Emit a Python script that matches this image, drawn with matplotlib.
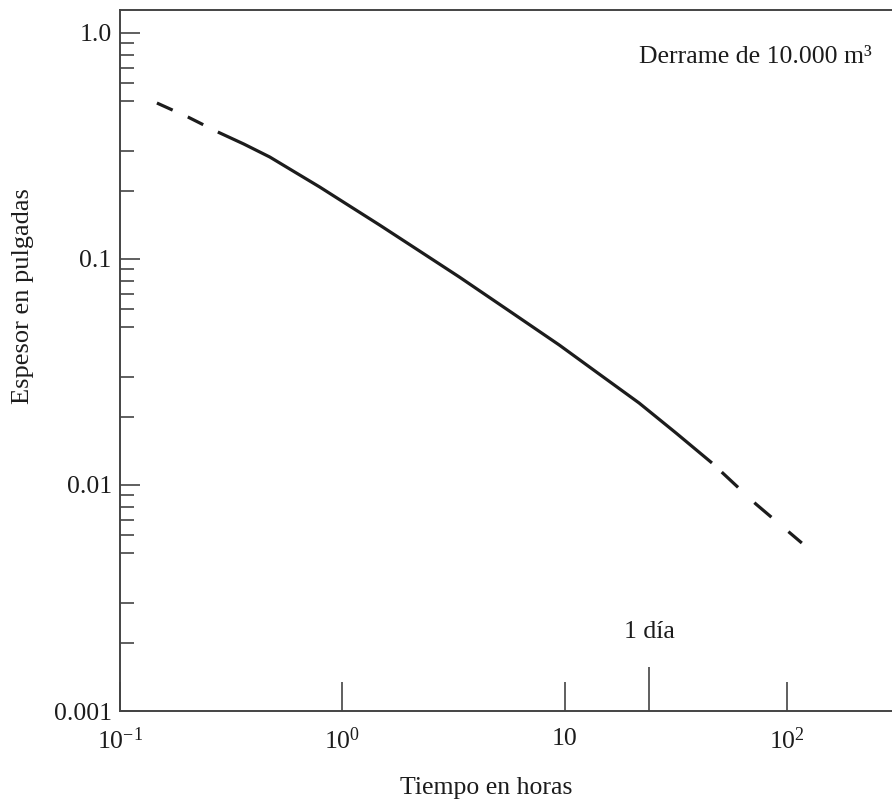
import matplotlib
matplotlib.use("Agg")
import matplotlib.pyplot as plt
from matplotlib.ticker import FixedLocator, NullFormatter
from matplotlib.transforms import blended_transform_factory

plt.rcParams["font.family"] = ["Liberation Serif", "DejaVu Serif"]
plt.rcParams["mathtext.fontset"] = "custom"
plt.rcParams["mathtext.rm"] = "Liberation Serif"

# Oil-slick thickness (inches) versus time (hours), 10,000 m3 spill
t_early = [0.1466, 0.2019, 0.2755]
h_early = [0.4900, 0.4250, 0.3646]

t_main = [0.2755, 0.3604, 0.4717, 0.6105, 0.7909, 1.0784, 1.471, 2.224,
          3.363, 5.639, 9.459, 14.30, 21.63, 31.70, 46.00]
h_main = [0.3646, 0.3227, 0.2827, 0.2427, 0.2083, 0.1716, 0.1414, 0.1085,
          0.0832, 0.0589, 0.04164, 0.03098, 0.02306, 0.01699, 0.01252]

t_late = [46.00, 72.5, 116.7]
h_late = [0.01252, 0.00824, 0.005538]

x_ticks = [0.1, 1, 10, 100]
x_labels = [r"$\mathregular{10^{-1}}$", r"$\mathregular{10^{0}}$", "10",
            r"$\mathregular{10^{2}}$"]
y_ticks = [1.0, 0.1, 0.01, 0.001]
y_labels = ["1.0", "0.1", "0.01", "0.001"]
y_minor = [m * d for d in (0.1, 0.01, 0.001) for m in (9, 8, 7, 6, 5, 3, 2)]
day_hours = 24

W, H = 892, 802
fig = plt.figure(figsize=(W / 100, H / 100), dpi=100)
left, right, top, bottom = 120, 892, 10, 711
ax = fig.add_axes([left / W, (H - bottom) / H, (right - left) / W, (bottom - top) / H])
ax.set_xscale("log")
ax.set_yscale("log")
ax.set_xlim(0.1, 297)
ax.set_ylim(0.001, 1.264)

ink = "#1c1c1c"
axis_col = "#444444"
fs = 18.5
lw = 2.3
ax.plot(t_early, h_early, color=ink, lw=lw, linestyle=(0, (5.4, 5.2)),
        dash_capstyle="butt")
ax.plot(t_main, h_main, color=ink, lw=lw, solid_capstyle="butt",
        solid_joinstyle="round")
ax.plot(t_late, h_late, color=ink, lw=lw, linestyle=(9.8, (7.0, 7.0)),
        dash_capstyle="butt")

ax.spines["right"].set_visible(False)
for side in ("left", "top", "bottom"):
    ax.spines[side].set_color(axis_col)
    ax.spines[side].set_linewidth(1.4)

ax.set_xticks(x_ticks)
ax.set_xticklabels(x_labels)
ax.xaxis.set_minor_locator(FixedLocator([day_hours]))
ax.xaxis.set_minor_formatter(NullFormatter())
ax.tick_params(axis="x", which="major", direction="in", length=21, width=1.2,
               color=axis_col, pad=12, labelsize=fs, labelcolor=ink, top=False)
ax.tick_params(axis="x", which="minor", direction="in", length=31.5, width=1.2,
               color=axis_col, top=False)

ax.set_yticks(y_ticks)
ax.set_yticklabels(y_labels)
ax.yaxis.set_minor_locator(FixedLocator(y_minor))
ax.yaxis.set_minor_formatter(NullFormatter())
ax.tick_params(axis="y", which="major", direction="in", length=14.4, width=1.2,
               color=axis_col, pad=6, labelsize=fs, labelcolor=ink, right=False)
ax.tick_params(axis="y", which="minor", direction="in", length=10, width=1.2,
               color=axis_col, right=False)

trans = blended_transform_factory(ax.transData, ax.transAxes)
ax.text(day_hours, (bottom - 632) / (bottom - top), "1 día", transform=trans,
        ha="center", va="center", fontsize=fs, color=ink)

ax.text(872, H - 57, "Derrame de 10.000 m³", transform=None, ha="right",
        va="center", fontsize=fs, color=ink)
fig.text(486 / W, 1 - 788 / H, "Tiempo en horas", ha="center", va="center",
         fontsize=fs, color=ink)
fig.text(23 / W, 1 - 296 / H, "Espesor en pulgadas", ha="center", va="center",
         rotation=90, fontsize=19, color=ink)

fig.savefig("out.png", dpi=100, facecolor="white")
